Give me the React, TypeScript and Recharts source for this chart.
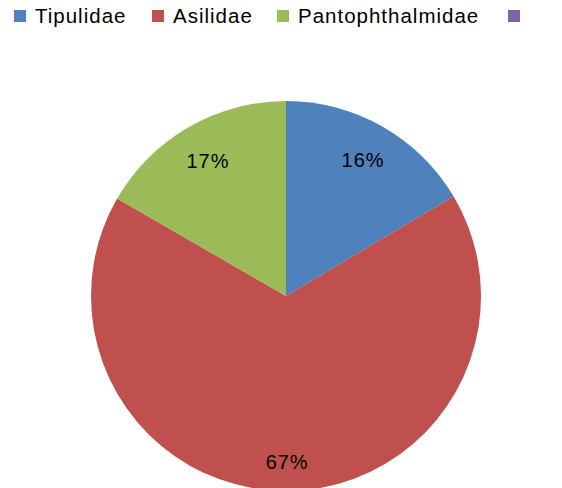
import React from "react";
import { PieChart, Pie, Cell, Legend } from "recharts";

const categories = ["Tipulidae", "Asilidae", "Pantophthalmidae", ""];
const values = [16.45, 66.88, 16.67, 0];
const colors = ["#4F81BD", "#C0504D", "#9BBB59", "#8064A2"];

const data = categories.map((name, i) => ({ name, value: values[i] }));
const total = values.reduce((a, b) => a + b, 0);

const legendX = [14, 152, 277, 508];
const FONT = "'Liberation Sans', Arial, sans-serif";

const RADIAN = Math.PI / 180;

const renderLabel = (props: any) => {
  const { cx, cy, midAngle, outerRadius, value, index } = props;
  if (!value) return null;
  const share = value / total;
  const r = outerRadius * (share > 0.5 ? 0.85 : 0.8);
  const x = cx + r * Math.cos(-midAngle * RADIAN);
  const y = cy + r * Math.sin(-midAngle * RADIAN);
  return (
    <text
      key={index}
      x={x}
      y={y}
      textAnchor="middle"
      dominantBaseline="central"
      fill="#000"
      style={{ fontFamily: FONT, fontSize: 20, letterSpacing: 1 }}
    >
      {`${Math.round(share * 100)}%`}
    </text>
  );
};

const renderLegend = () => (
  <div style={{ position: "relative", width: 562, height: 34 }}>
    {data.map((d, i) => (
      <div
        key={i}
        style={{
          position: "absolute",
          left: legendX[i],
          top: 0,
          display: "flex",
          alignItems: "center",
          height: 32,
        }}
      >
        <span
          style={{
            display: "inline-block",
            width: 12,
            height: 12,
            background: colors[i],
            marginRight: 9,
          }}
        />
        <span
          style={{
            fontFamily: FONT,
            fontSize: 20.5,
            letterSpacing: 1,
            color: "#000",
            whiteSpace: "nowrap",
          }}
        >
          {d.name}
        </span>
      </div>
    ))}
  </div>
);

export default function App() {
  return (
    <div style={{ position: "absolute", left: 0, top: 0, background: "#fff" }}>
      <PieChart width={562} height={488} margin={{ top: 0, right: 0, bottom: 0, left: 0 }}>
        <Legend
          verticalAlign="top"
          align="left"
          content={renderLegend}
          wrapperStyle={{ top: 0, left: 0, width: 562 }}
        />
        <Pie
          data={data}
          dataKey="value"
          nameKey="name"
          cx={286}
          cy={262}
          outerRadius={195}
          startAngle={90}
          endAngle={-270}
          stroke="none"
          label={renderLabel}
          labelLine={false}
          isAnimationActive={false}
        >
          {data.map((d, i) => (
            <Cell key={i} fill={colors[i]} />
          ))}
        </Pie>
      </PieChart>
    </div>
  );
}
